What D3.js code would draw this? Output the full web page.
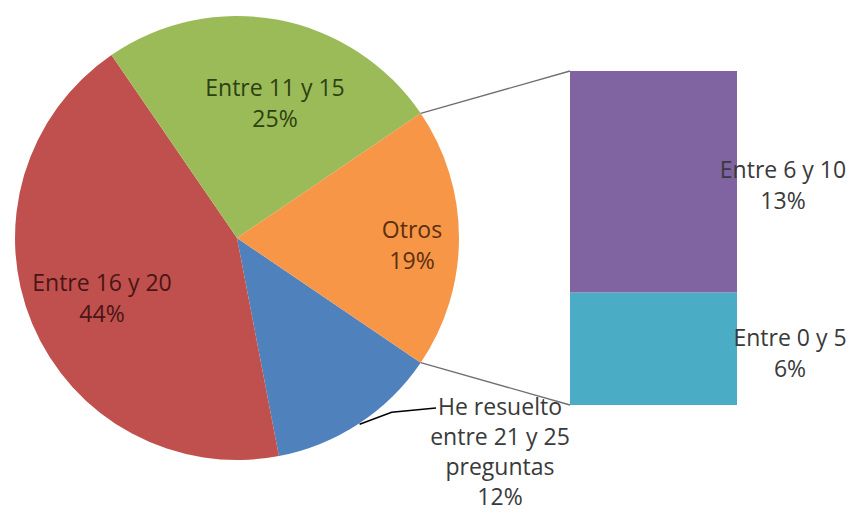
<!DOCTYPE html>
<html>
<head>
<meta charset="utf-8">
<script src="https://cdn.jsdelivr.net/npm/d3@7"></script>
<style>
  html, body { margin: 0; padding: 0; background: #fff; }
  svg { display: block; }
  text { font-family: "Open Sans", Lato, sans-serif; font-size: 23px; }
</style>
</head>
<body>
<svg id="chart" width="850" height="512"></svg>
<script>
// ---- data ----
const pieCategories = ["He resuelto entre 21 y 25 preguntas", "Entre 16 y 20", "Entre 11 y 15", "Otros"];
const pieValues = [12.5, 43.5, 25.1, 19.0];
const pieLabels = ["12%", "44%", "25%", "19%"];
const barCategories = ["Entre 0 y 5", "Entre 6 y 10"];
const barValues = [6.4, 12.6];
const barLabels = ["6%", "13%"];

// ---- styles ----
const pieColors = ["#4f81bd", "#c0504d", "#9bbb59", "#f79646"];
const pieTextColors = ["#3a3a3a", "#4a1515", "#2c4210", "#5a3010"];
const barColors = ["#4bacc6", "#8064a2"];

const svg = d3.select("#chart");
const cx = 237, cy = 238, R = 222;

const total = d3.sum(pieValues);
const otrosSpan = pieValues[3] / total * 2 * Math.PI;
const start = Math.PI / 2 + otrosSpan / 2;

const pie = d3.pie().sort(null).value(d => d)
  .startAngle(start).endAngle(start + 2 * Math.PI);
const arcs = pie(pieValues);
const arc = d3.arc().innerRadius(0).outerRadius(R);

const g = svg.append("g").attr("transform", `translate(${cx},${cy})`);
g.selectAll("path").data(arcs).join("path")
  .attr("d", arc)
  .attr("fill", (d, i) => pieColors[i]);

// ---- bar (stack) ----
const barX0 = 570, barX1 = 737;
const y = d3.scaleLinear().domain([0, d3.sum(barValues)]).range([405, 71]);
const stack = [];
let acc = 0;
barValues.forEach((v, i) => { stack.push({ v0: acc, v1: acc + v, i }); acc += v; });
svg.selectAll("rect.bar").data(stack).join("rect")
  .attr("class", "bar")
  .attr("x", barX0).attr("width", barX1 - barX0)
  .attr("y", d => y(d.v1)).attr("height", d => y(d.v0) - y(d.v1))
  .attr("fill", d => barColors[d.i]);

// ---- connector lines ----
const o = arcs[3];
const pt = (a, r) => [cx + r * Math.sin(a), cy - r * Math.cos(a)];
const pTop = pt(o.startAngle, R), pBot = pt(o.endAngle, R);
svg.append("line").attr("x1", pTop[0]).attr("y1", pTop[1])
  .attr("x2", barX0).attr("y2", y(d3.sum(barValues)))
  .attr("stroke", "#6f6f6f").attr("stroke-width", 1.3);
svg.append("line").attr("x1", pBot[0]).attr("y1", pBot[1])
  .attr("x2", barX0).attr("y2", y(0))
  .attr("stroke", "#6f6f6f").attr("stroke-width", 1.3);

// ---- labels ----
function label(lines, x, yc, color, gap) {
  const t = svg.append("text").attr("text-anchor", "middle").attr("fill", color);
  const n = lines.length;
  lines.forEach((s, k) => {
    t.append("tspan").attr("x", x)
      .attr("y", yc + (k - (n - 1) / 2) * gap)
      .attr("dominant-baseline", "central")
      .text(s);
  });
}
label(["Entre 11 y 15", pieLabels[2]], 275, 102, pieTextColors[2], 31);
label(["Entre 16 y 20", pieLabels[1]], 102, 297, pieTextColors[1], 31);
label(["Otros", pieLabels[3]], 412, 244, pieTextColors[3], 31);
label(["He resuelto", "entre 21 y 25", "preguntas", pieLabels[0]], 500, 451, pieTextColors[0], 30);
label([barCategories[1], barLabels[1]], 783, 184, "#3a3a3a", 31);
label([barCategories[0], barLabels[0]], 790, 352, "#3a3a3a", 31);

// leader line for blue slice
const b = arcs[0];
const mid = (b.startAngle + b.endAngle) / 2;
const p0 = pt(mid, R + 1);
svg.append("polyline")
  .attr("points", [p0, [p0[0] + 32, p0[1] - 12], [436, 408]].map(p => p.join(",")).join(" "))
  .attr("fill", "none").attr("stroke", "#000").attr("stroke-width", 1.5);
</script>
</body>
</html>
